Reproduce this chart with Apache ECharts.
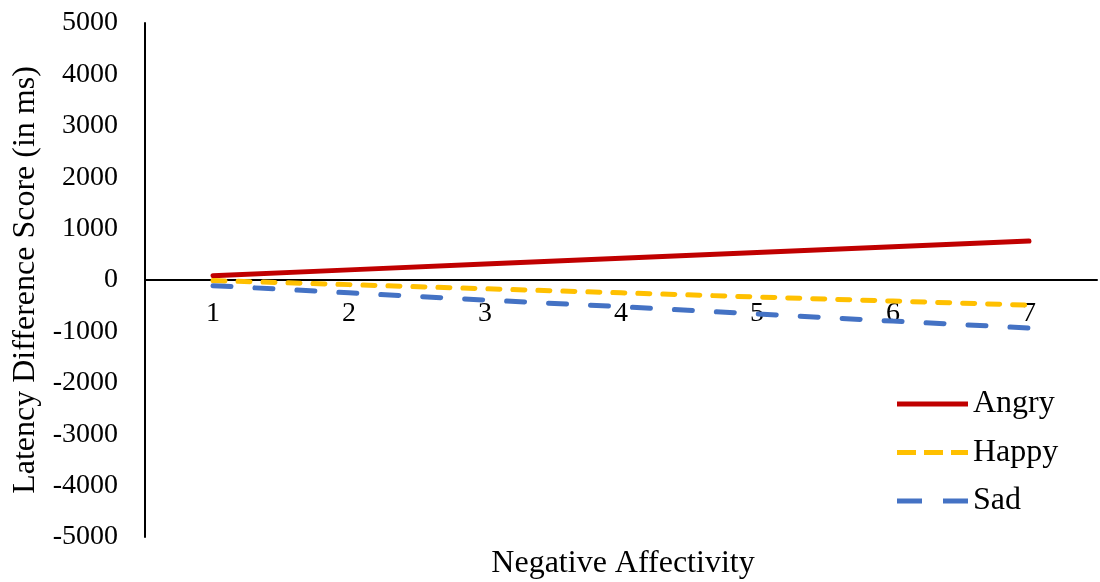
<!DOCTYPE html>
<html><head><meta charset="utf-8">
<script src="https://cdn.jsdelivr.net/npm/echarts@6/dist/echarts.min.js"></script>
<style>html,body{margin:0;padding:0;background:#fff}#c{width:1100px;height:582px}</style>
</head><body><div id="c"></div>
<script>
const categories = ['1','2','3','4','5','6','7'];
const angry = [85, 197, 309, 421, 533, 645, 757];
const happy = [-10, -90, -170, -250, -330, -410, -490];
const sad = [-110, -250, -390, -520, -660, -800, -935];
const yTicks = {min: -5000, max: 5000, interval: 1000};

const font = '"Liberation Serif", "Times New Roman", serif';
const chart = echarts.init(document.getElementById('c'));
const gTop = 23, gBottom = 45, chartH = 582;
const plotH = chartH - gBottom - gTop;
const zeroOffset = -(plotH * (0 - yTicks.min) / (yTicks.max - yTicks.min));
chart.setOption({
  animation: false,
  backgroundColor: '#fff',
  textStyle: {fontFamily: font},
  grid: {left: 145, right: 3, top: gTop, bottom: gBottom, containLabel: false},
  title: {text: 'Negative Affectivity', left: 623, top: 548, textAlign: 'center', padding: 0,
    textStyle: {fontFamily: font, fontSize: 32, fontWeight: 'normal', color: '#000'}},
  legend: {
    orient: 'vertical', left: 897, top: 388, padding: 0, itemWidth: 71, itemHeight: 5, itemGap: 16.5,
    textStyle: {fontFamily: font, fontSize: 32, lineHeight: 32, color: '#000'},
    data: [
      {name: 'Angry', icon: 'path://M0,0H71V5H0Z'},
      {name: 'Happy', icon: 'path://M0,0H19V5H0Z M27,0H46V5H27Z M54,0H71V5H54Z'},
      {name: 'Sad', icon: 'path://M0,0H25V5H0Z M46,0H71V5H46Z'}
    ]
  },
  xAxis: {
    type: 'category', data: categories, boundaryGap: true,
    position: 'bottom', offset: zeroOffset,
    axisLine: {onZero: false, lineStyle: {color: '#000', width: 2}},
    axisTick: {show: false},
    axisLabel: {fontFamily: font, fontSize: 28, color: '#000', margin: 20}
  },
  yAxis: {
    type: 'value', min: yTicks.min, max: yTicks.max, interval: yTicks.interval,
    name: 'Latency Difference Score (in ms)', nameLocation: 'middle', nameGap: 101,
    nameTextStyle: {fontFamily: font, fontSize: 32, color: '#000'},
    axisLine: {show: true, lineStyle: {color: '#000', width: 2}},
    axisTick: {show: false},
    splitLine: {show: false},
    axisLabel: {fontFamily: font, fontSize: 28, color: '#000', margin: 27, formatter: v => String(v)}
  },
  series: [
    {name: 'Angry', type: 'line', data: angry, showSymbol: false, symbol: 'none',
     lineStyle: {color: '#C00000', width: 5, cap: 'round'}, itemStyle: {color: '#C00000'}},
    {name: 'Happy', type: 'line', data: happy, showSymbol: false, symbol: 'none',
     lineStyle: {color: '#FFC000', width: 5, type: [12, 13], cap: 'round'}, itemStyle: {color: '#FFC000'}},
    {name: 'Sad', type: 'line', data: sad, showSymbol: false, symbol: 'none',
     lineStyle: {color: '#4472C4', width: 5, type: [18, 24], cap: 'round'}, itemStyle: {color: '#4472C4'}}
  ]
});
</script></body></html>
